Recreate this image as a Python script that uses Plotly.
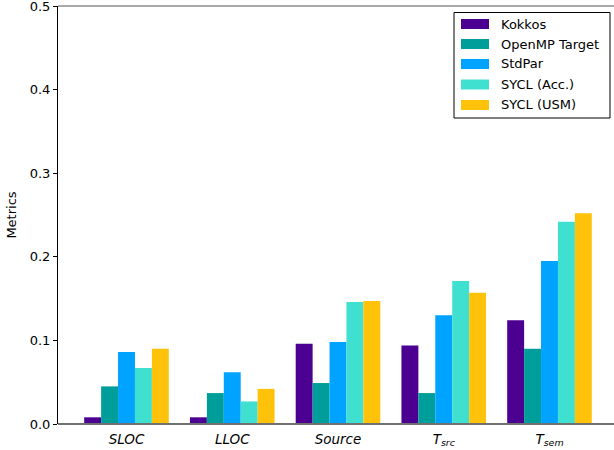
import plotly.graph_objects as go

# Metric categories along the x axis
categories = ["SLOC", "LLOC", "Source", "T_src", "T_sem"]
tick_text = [
    "<i>SLOC</i>",
    "<i>LLOC</i>",
    "<i>Source</i>",
    "<i>T</i><sub><i>src</i></sub>",
    "<i>T</i><sub><i>sem</i></sub>",
]
y_ticks = [0.0, 0.1, 0.2, 0.3, 0.4, 0.5]
y_tick_text = ["0.0", "0.1", "0.2", "0.3", "0.4", "0.5"]

# One series per programming model
kokkos = [0.008, 0.008, 0.096, 0.094, 0.124]
openmp_target = [0.045, 0.037, 0.049, 0.037, 0.090]
stdpar = [0.086, 0.062, 0.098, 0.130, 0.195]
sycl_acc = [0.067, 0.027, 0.146, 0.171, 0.242]
sycl_usm = [0.090, 0.042, 0.147, 0.157, 0.252]

series = [
    ("Kokkos", kokkos, "#4B0092"),
    ("OpenMP Target", openmp_target, "#009E9A"),
    ("StdPar", stdpar, "#00A3FF"),
    ("SYCL (Acc.)", sycl_acc, "#40E0D0"),
    ("SYCL (USM)", sycl_usm, "#FFC20A"),
]

W, H = 614, 450
ML, MR, MT, MB = 58, 0, 6, 26
PW, PH = W - ML - MR, H - MT - MB
FONT = "DejaVu Sans"


def px_x(p):
    return (p - ML) / PW


def px_y(p):
    return (H - MB - p) / PH


fig = go.Figure()
xs = list(range(len(categories)))
for name, vals, color in series:
    fig.add_trace(go.Bar(
        x=xs, y=vals, name=name,
        marker=dict(color=color, line=dict(width=0)),
        showlegend=False,
    ))

shapes = []
annotations = []

# blank strip along the open right side of the axes
shapes.append(dict(type="rect", xref="paper", yref="paper",
                   x0=px_x(611), x1=px_x(W + 2), y0=px_y(H), y1=px_y(-2),
                   line=dict(width=0), fillcolor="white", layer="above"))

# top frame line and grey baseline, running to the right edge of the figure
shapes.append(dict(type="line", xref="paper", yref="paper", x0=0, x1=px_x(W + 2), y0=1, y1=1,
                   line=dict(color="#555555", width=1), layer="above"))
shapes.append(dict(type="line", xref="paper", yref="paper", x0=0, x1=px_x(W + 2), y0=0, y1=0,
                   line=dict(color="#707070", width=2), layer="above"))

# legend box
shapes.append(dict(type="rect", xref="paper", yref="paper",
                   x0=px_x(454), x1=px_x(610), y0=px_y(118), y1=px_y(12.5),
                   line=dict(color="black", width=1), fillcolor="white", layer="above"))
row_y = [24, 44, 64, 84.5, 105]
for (name, _, color), ry in zip(series, row_y):
    shapes.append(dict(type="rect", xref="paper", yref="paper",
                       x0=px_x(461), x1=px_x(489), y0=px_y(ry + 5), y1=px_y(ry - 5),
                       line=dict(width=0), fillcolor=color, layer="above"))
    annotations.append(dict(xref="paper", yref="paper", x=px_x(499), y=px_y(ry),
                            text=name, showarrow=False, xanchor="left", yanchor="middle",
                            font=dict(family=FONT, size=13, color="black")))

# x scale: category 0 centred at 126.5 px, 105.75 px between categories
x_left = (ML - 126.5) / 105.75
x_right = (W - MR - 126.5) / 105.75

fig.update_layout(
    width=W, height=H,
    margin=dict(l=ML, r=MR, t=MT, b=MB, pad=0, autoexpand=False),
    paper_bgcolor="white", plot_bgcolor="white",
    barmode="group", bargap=0.2, bargroupgap=0,
    font=dict(family=FONT, size=13, color="black"),
    shapes=shapes, annotations=annotations,
    xaxis=dict(
        range=[x_left, x_right], tickvals=xs, ticktext=tick_text,
        showgrid=False, zeroline=False, showline=False, ticks="",
        ticklabelstandoff=5, automargin=False,
        tickfont=dict(family=FONT, size=13.5, color="black"),
    ),
    yaxis=dict(
        range=[0, 0.5], tickvals=y_ticks, ticktext=y_tick_text,
        showgrid=False, zeroline=False, showline=True, linecolor="black", linewidth=1,
        ticks="outside", ticklen=4, tickwidth=1, tickcolor="black",
        ticklabeloverflow="allow", automargin=False,
        tickfont=dict(family=FONT, size=13, color="black"),
        title=dict(text="Metrics", font=dict(family=FONT, size=13, color="black"), standoff=10),
    ),
)

fig.write_html(
    "out.html",
    config={"displayModeBar": False},
    post_script="document.documentElement.style.overflow='hidden';"
                "document.body.style.overflow='hidden';document.body.style.margin='0';",
)
